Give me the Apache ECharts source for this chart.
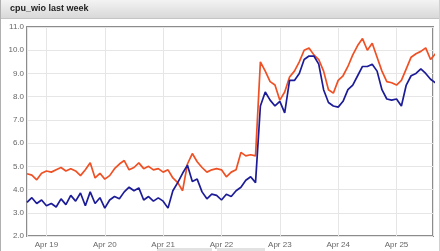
<!DOCTYPE html>
<html>
<head>
<meta charset="utf-8">
<script src="https://cdn.jsdelivr.net/npm/echarts@6/dist/echarts.min.js"></script>
<style>
html,body{margin:0;padding:0;background:#fff;}
#c{width:440px;height:251px;}
</style>
</head>
<body>
<div id="c"></div>
<script>
// Sampling: every 2 hours starting Apr 18 16:00
const startTime = new Date(2024, 3, 18, 16, 0, 0).getTime();
const stepHours = 2;
const spanHours = 167;
const monthNames = ['Jan','Feb','Mar','Apr','May','Jun','Jul','Aug','Sep','Oct','Nov','Dec'];
const titleText = 'cpu_wio last week';
const yTicks = [2, 11, 1]; // min, max, interval

// series 1 (orange/red)
const seriesA = [4.68,4.62,4.42,4.7,4.8,4.75,4.85,4.95,4.8,4.9,4.8,4.6,4.85,5.15,4.5,4.7,
  4.45,4.6,4.9,5.1,5.25,4.85,4.95,5.15,4.9,5.0,4.85,4.9,4.75,4.85,4.5,4.3,
  3.95,5.1,5.55,5.2,4.95,4.75,4.85,4.9,4.85,4.55,4.75,4.85,5.6,5.45,5.5,5.45,
  9.5,9.1,8.65,8.5,7.85,8.2,8.85,9.1,9.5,10.0,10.1,9.8,9.6,9.1,8.3,8.15,
  8.7,8.9,9.3,9.8,10.2,10.5,10.0,10.3,9.7,9.1,8.65,8.6,8.5,8.7,9.2,9.7,
  9.85,9.95,10.1,9.6,9.85];
// series 2 (blue)
const seriesB = [3.45,3.65,3.4,3.55,3.3,3.4,3.25,3.6,3.35,3.75,3.5,3.85,3.3,3.9,3.4,3.65,
  3.2,3.55,3.7,3.6,3.9,4.1,3.95,4.07,3.55,3.7,3.5,3.64,3.5,3.2,3.95,4.3,
  4.7,5.05,4.35,4.45,3.9,3.6,3.8,3.75,3.55,3.8,3.7,3.95,4.1,4.4,4.55,4.3,
  7.6,8.2,7.85,7.6,7.8,7.3,8.7,8.7,9.0,9.6,9.75,9.75,9.4,8.3,7.75,7.6,
  7.55,7.8,8.3,8.5,8.9,9.3,9.3,9.4,9.1,8.3,7.9,7.85,7.9,7.6,8.5,8.9,
  9.0,9.2,9.0,8.75,8.6];

const H = 3600 * 1000;
const toPairs = arr => arr.map((v, i) => [startTime + i * stepHours * H, v]);

const chart = echarts.init(document.getElementById('c'), null, {renderer: 'canvas'});
chart.setOption({
  animation: false,
  backgroundColor: '#ffffff',
  graphic: [
    {type: 'rect', shape: {x: 0, y: 0, width: 440, height: 18}, z: -1,
     style: {fill: new echarts.graphic.LinearGradient(0, 0, 0, 1, [
       {offset: 0, color: '#f3f3f3'}, {offset: 1, color: '#d8d8d8'}])}},
    {type: 'line', shape: {x1: 0, y1: 18.5, x2: 440, y2: 18.5}, style: {stroke: '#c4c4c4', lineWidth: 1}},
    {type: 'line', shape: {x1: 0.5, y1: 0, x2: 0.5, y2: 251}, style: {stroke: '#b0b0b0', lineWidth: 1}},
    {type: 'line', shape: {x1: 439.5, y1: 0, x2: 439.5, y2: 251}, style: {stroke: '#d0d0d0', lineWidth: 1}},
    {type: 'text', left: 10, top: 4, style: {text: titleText, fill: '#222', font: 'bold 9px "Liberation Sans", Arial, sans-serif'}},
    {type: 'rect', shape: {x: 157, y: 248, width: 55, height: 4}, style: {fill: '#e2e2e2'}},
    {type: 'rect', shape: {x: 217, y: 248, width: 48, height: 4}, style: {fill: '#e2e2e2'}}
  ],
  grid: {left: 27, right: 7, top: 27, bottom: 15, show: true, borderColor: '#8c8c8c', borderWidth: 2, backgroundColor: 'transparent'},
  xAxis: {
    type: 'time',
    min: startTime,
    max: startTime + spanHours * H,
    minInterval: 24 * H,
    maxInterval: 24 * H,
    axisLine: {show: false},
    axisTick: {show: false},
    splitLine: {show: true, lineStyle: {color: '#e6e6e6', width: 1}},
    axisLabel: {
      color: '#666', fontSize: 8, fontFamily: '"Liberation Sans", Arial, sans-serif', margin: 5,
      formatter: v => { const d = new Date(v); return monthNames[d.getMonth()] + ' ' + d.getDate(); }
    }
  },
  yAxis: {
    type: 'value',
    min: yTicks[0], max: yTicks[1], interval: yTicks[2],
    axisLine: {show: false},
    axisTick: {show: false},
    splitLine: {show: true, lineStyle: {color: '#e6e6e6', width: 1}},
    axisLabel: {color: '#666', fontSize: 8, fontFamily: '"Liberation Sans", Arial, sans-serif', margin: 3,
      formatter: v => v.toFixed(1)}
  },
  series: [
    {type: 'line', data: toPairs(seriesA), showSymbol: false, symbol: 'none',
     lineStyle: {color: '#ef5024', width: 1.7}, itemStyle: {color: '#ef5024'}},
    {type: 'line', data: toPairs(seriesB), showSymbol: false, symbol: 'none',
     lineStyle: {color: '#1c1c98', width: 1.7}, itemStyle: {color: '#1c1c98'}}
  ]
});
</script>
</body>
</html>
